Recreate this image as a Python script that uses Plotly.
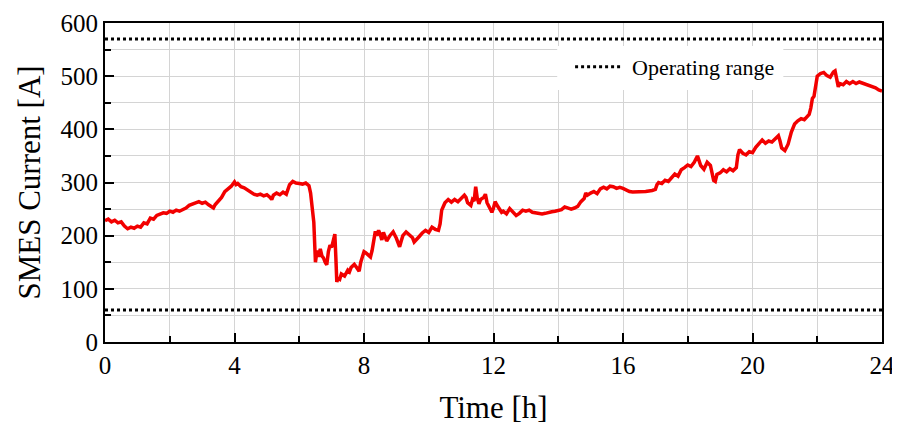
import plotly.graph_objects as go

time_h = [0.0,0.1,0.2,0.3,0.4,0.5,0.6,0.7,0.8,0.9,1.0,1.1,1.2,1.3,1.4,1.5,1.6,1.7,1.8,1.9,
          2.0,2.1,2.2,2.3,2.4,2.5,2.6,2.7,2.8,2.9,3.0,3.1,3.2,3.3,3.35,3.4,3.5,3.6,3.7,3.8,3.9,
          4.0,4.05,4.1,4.2,4.3,4.4,4.5,4.6,4.7,4.8,4.9,5.0,5.1,5.15,5.2,5.3,5.4,5.5,5.6,5.65,5.7,5.8,5.9,
          6.0,6.1,6.2,6.3,6.35,6.4,6.45,6.5,6.55,6.6,6.65,6.7,6.75,6.8,6.85,6.9,6.95,
          7.0,7.05,7.1,7.13,7.16,7.2,7.25,7.3,7.4,7.5,7.55,7.6,7.7,7.75,7.8,7.85,7.9,
          8.0,8.05,8.1,8.2,8.25,8.3,8.35,8.4,8.45,8.5,8.55,8.6,8.7,8.8,8.9,
          9.0,9.05,9.1,9.15,9.2,9.3,9.4,9.5,9.55,9.6,9.7,9.8,9.9,
          10.0,10.1,10.2,10.3,10.35,10.4,10.45,10.5,10.6,10.7,10.8,10.9,
          11.0,11.1,11.15,11.2,11.3,11.35,11.4,11.45,11.5,11.55,11.6,11.7,11.75,11.8,11.9,11.95,
          12.0,12.05,12.1,12.2,12.25,12.3,12.4,12.5,12.6,12.7,12.8,12.9,
          13.0,13.1,13.2,13.3,13.4,13.5,13.6,13.7,13.8,13.9,
          14.0,14.1,14.2,14.3,14.4,14.5,14.6,14.7,14.8,14.85,14.9,
          15.0,15.1,15.2,15.3,15.4,15.5,15.6,15.7,15.8,15.9,
          16.0,16.1,16.2,16.3,16.5,16.7,16.9,
          17.0,17.05,17.1,17.2,17.3,17.4,17.5,17.6,17.7,17.8,17.9,
          18.0,18.1,18.2,18.3,18.35,18.4,18.5,18.6,18.7,18.8,18.85,18.9,
          19.0,19.1,19.2,19.3,19.4,19.5,19.55,19.6,19.7,19.8,19.9,
          20.0,20.1,20.2,20.3,20.4,20.5,20.6,20.7,20.8,20.85,20.9,
          21.0,21.05,21.1,21.2,21.3,21.4,21.5,21.6,21.7,21.75,21.8,21.85,21.9,21.95,
          22.0,22.1,22.2,22.3,22.4,22.5,22.55,22.6,22.65,22.7,22.8,22.9,
          23.0,23.1,23.2,23.3,23.4,23.5,23.6,23.7,23.8,23.9,24.0]

current_a = [228,231,226,229,224,226,218,213,216,214,218,216,224,222,233,231,238,240,243,242,
             246,244,248,246,249,252,257,259,262,264,261,263,258,254,252,258,266,272,283,288,293,
             301,296,298,292,290,286,281,278,276,278,275,277,272,268,276,280,277,282,278,290,296,302,299,
             298,297,299,294,280,255,225,150,172,160,175,162,158,150,145,170,182,
             178,190,203,160,113,120,118,128,124,135,132,140,146,142,138,133,150,
             170,168,165,160,172,195,208,200,210,203,192,206,190,200,207,
             195,185,179,190,200,207,202,196,188,192,198,205,210,
             206,216,212,210,222,248,255,262,268,263,268,264,
             270,276,272,262,257,268,265,292,270,260,268,272,278,262,250,244,
             252,264,258,250,244,246,241,251,244,238,242,248,
             246,248,244,243,241,241,242,244,245,246,
             247,249,254,252,250,252,255,264,270,280,276,
             280,283,279,288,291,288,293,292,289,291,
             289,286,283,282,282,283,285,
             287,296,300,298,304,302,310,316,312,324,328,
             333,330,338,350,340,332,325,338,332,304,302,315,
             318,324,320,326,322,328,352,362,355,352,358,
             356,366,372,380,374,378,376,383,388,378,365,
             360,368,372,395,410,416,420,418,424,428,440,458,462,480,
             500,505,507,501,498,508,510,495,480,486,484,490,
             486,490,486,489,487,484,482,480,478,474,472]

range_x = [0, 24, None, 0, 24]
range_y = [570, 570, None, 60, 60]

x_ticks = [0, 4, 8, 12, 16, 20, 24]
y_ticks = [0, 100, 200, 300, 400, 500, 600]
legend_label = "Operating range"

FONT = "Liberation Serif, Times New Roman, serif"

fig = go.Figure()
fig.add_trace(go.Scatter(x=time_h, y=current_a, mode="lines",
                         line=dict(color="#f20000", width=3.5), showlegend=False))
fig.add_trace(go.Scatter(x=range_x, y=range_y, mode="lines", name=legend_label,
                         line=dict(color="black", width=3, dash="dot"), showlegend=False))

axis_common = dict(showline=True, linecolor="black", linewidth=2, mirror=True,
                   ticks="inside", ticklen=9, tickwidth=1.5, tickcolor="black",
                   showgrid=True, gridcolor="#d4d4d4", gridwidth=1, zeroline=False,
                   automargin=False,
                   tickfont=dict(family=FONT, size=25, color="black"))

fig.update_xaxes(range=[0, 24], tickvals=x_ticks,
                 minor=dict(dtick=2, ticks="inside", ticklen=6, tickcolor="black",
                            showgrid=True, gridcolor="#d4d4d4"),
                 title=dict(text="Time [h]", font=dict(family=FONT, size=31, color="black"),
                            standoff=18),
                 **axis_common)
fig.update_yaxes(range=[0, 600], tickvals=y_ticks,
                 minor=dict(dtick=50, ticks="inside", ticklen=6, tickcolor="black",
                            showgrid=True, gridcolor="#d4d4d4"),
                 title=dict(text="SMES Current [A]", font=dict(family=FONT, size=31, color="black"),
                            standoff=11),
                 **axis_common)

# hand-drawn legend box (paper coordinates), matching the reference's long dotted sample
fig.add_shape(type="rect", xref="paper", yref="paper", x0=0.582, x1=0.873, y0=0.79, y1=0.928,
              fillcolor="white", line=dict(width=0), layer="above")
fig.add_shape(type="line", xref="paper", yref="paper", x0=0.605, x1=0.665, y0=0.863, y1=0.863,
              line=dict(color="black", width=3, dash="dot"), layer="above")
fig.add_annotation(xref="paper", yref="paper", x=0.676, y=0.86, xanchor="left", yanchor="middle",
                   text=legend_label, showarrow=False,
                   font=dict(family=FONT, size=22, color="black"))

# the page adds an 8 px body margin, so the figure is 8 px smaller than the window
fig.update_layout(width=892, height=420,
                  margin=dict(l=97, r=18, t=15, b=86),
                  paper_bgcolor="white", plot_bgcolor="white",
                  font=dict(family=FONT, color="black"),
                  showlegend=False)

fig.write_html("out.html")
